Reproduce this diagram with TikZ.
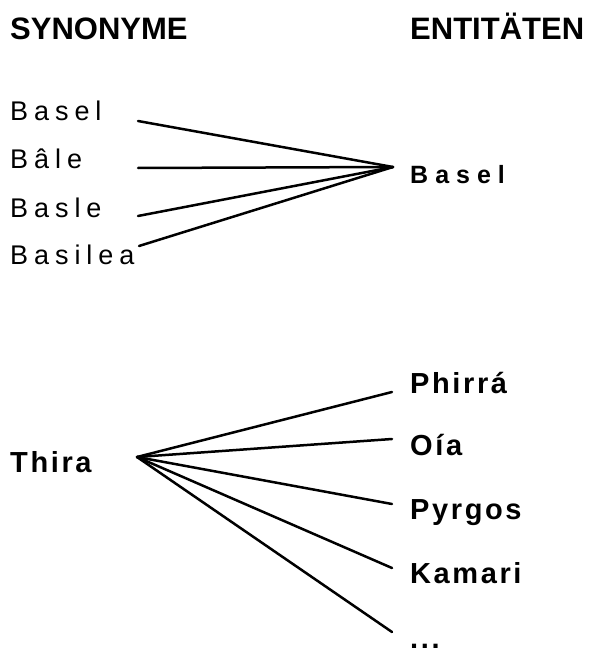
\documentclass[tikz,border=0pt]{standalone}
\usepackage{fontspec}
\setmainfont{Liberation Sans}
\newfontfamily\synfont{Liberation Sans}[LetterSpace=22]
\newfontfamily\entAfont{Liberation Sans}[LetterSpace=28]
\newfontfamily\entBfont{Liberation Sans}[LetterSpace=9]
\begin{document}
\begin{tikzpicture}[x=1pt,y=-1pt,
  head/.style={anchor=base west,inner sep=0pt,font=\fontsize{31}{31}\selectfont\bfseries},
  syn/.style={anchor=base west,inner sep=0pt,font=\fontsize{27}{27}\synfont},
  entA/.style={anchor=base west,inner sep=0pt,font=\fontsize{25}{25}\entAfont\bfseries},
  entB/.style={anchor=base west,inner sep=0pt,font=\fontsize{29}{29}\entBfont\bfseries},
  link/.style={line width=2.5pt,line cap=round}]
\clip (0,0) rectangle (606,650);
\fill[white] (0,0) rectangle (606,650);
% headings
\node[head] (hsyn) at (10,40) {SYNONYME};
\node[head] (hent) at (410,40) {ENTITÄTEN};
% Basel group
\node[syn] (s1) at (10,121) {Basel};
\node[syn] (s2) at (10,168) {Bâle};
\node[syn] (s3) at (10,217) {Basle};
\node[syn] (s4) at (10,264) {Basilea};
\node[entA] (e1) at (410,183) {Basel};
\coordinate (hubA) at (393,167);
\coordinate (a1) at (138,121);
\coordinate (a2) at (138,168);
\coordinate (a3) at (138,216);
\coordinate (a4) at (139,246);
\foreach \p in {a1,a2,a3,a4} \draw[link] (\p) -- (hubA);
% Thira group
\node[entB] (t0) at (10,472) {Thira};
\node[entB] (r1) at (410,393) {Phirrá};
\node[entB] (r2) at (410,455) {Oía};
\node[entB] (r3) at (410,519) {Pyrgos};
\node[entB] (r4) at (410,583) {Kamari};
\node[entB] (r5) at (410,648) {...};
\coordinate (hubB) at (137,457);
\coordinate (b1) at (392,392);
\coordinate (b2) at (392,439);
\coordinate (b3) at (392,504);
\coordinate (b4) at (392,568);
\coordinate (b5) at (392,632);
\foreach \p in {b1,b2,b3,b4,b5} \draw[link] (hubB) -- (\p);
\end{tikzpicture}
\end{document}
